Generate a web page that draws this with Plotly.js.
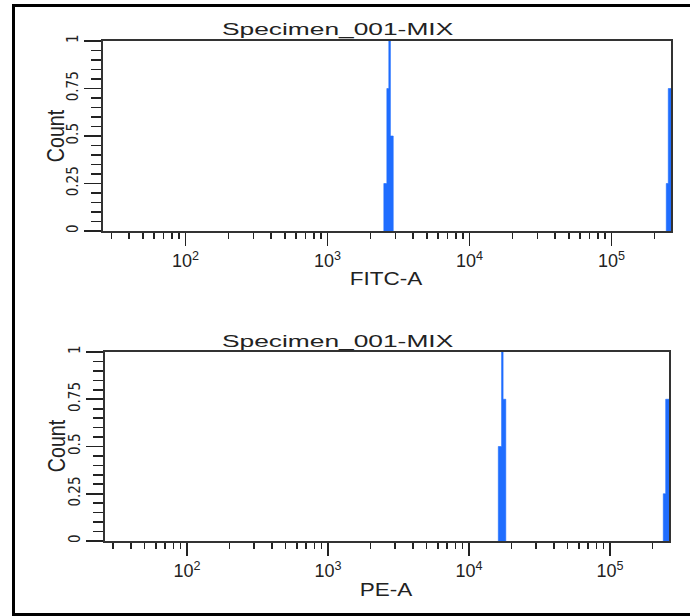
<!DOCTYPE html>
<html>
<head>
<meta charset="utf-8">
<script src="https://cdn.plot.ly/plotly-3.0.1.min.js"></script>
<style>
  html, body { margin: 0; padding: 0; background: #fff; overflow: hidden; width: 690px; height: 616px; }
  #chart { position: absolute; left: 0; top: 0; width: 690px; height: 616px; }
  #frame { position: absolute; left: 12px; top: 4px; width: 720px; height: 606px;
           border-left: 3px solid #000; border-top: 3px solid #000; border-bottom: 3px solid #000;
           pointer-events: none; }
  .annotation[data-index="0"] text.annotation-text,
  .annotation[data-index="1"] text.annotation-text {
    transform-box: fill-box; transform-origin: center; transform: scaleX(1.55);
  }
  .annotation[data-index="2"] text.annotation-text,
  .annotation[data-index="3"] text.annotation-text {
    transform-box: fill-box; transform-origin: center; transform: scaleX(1.25);
  }
  .annotation[data-index="4"] text.annotation-text,
  .annotation[data-index="5"] text.annotation-text {
    transform-box: fill-box; transform-origin: center; transform: scaleX(0.82);
  }
</style>
</head>
<body>
<div id="chart"></div>
<div id="frame"></div>
<script>
// ---- data ----
const panelTitles = ["Specimen_001-MIX", "Specimen_001-MIX"];
const xTitles = ["FITC-A", "PE-A"];
const yTitle = "Count";

// FITC-A histogram: bin edges and normalised counts
const fitcEdges = [2490, 2615, 2700, 2770, 2900];
const fitcCounts = [0.25, 0.75, 1, 0.5];
const fitcEdgesHigh = [242800, 250800, 262144];
const fitcCountsHigh = [0.25, 0.75];

// PE-A histogram
const peEdges = [16140, 17030, 17450, 18240];
const peCounts = [0.5, 1, 0.75];
const peEdgesHigh = [238800, 248400, 262144];
const peCountsHigh = [0.25, 0.75];

// axis ticks
const xMajorVals = [100, 1000, 10000, 100000];
const xMajorText = ["10<sup>2</sup>", "10<sup>3</sup>", "10<sup>4</sup>", "10<sup>5</sup>"];
const xMinorVals = [30, 40, 50, 60, 70, 80, 90,
                    200, 300, 400, 500, 600, 700, 800, 900,
                    2000, 3000, 4000, 5000, 6000, 7000, 8000, 9000,
                    20000, 30000, 40000, 50000, 60000, 70000, 80000, 90000,
                    200000];
const yMajorVals = [0, 0.25, 0.5, 0.75, 1];
const yMajorText = ["0", "0.25", "0.5", "0.75", "1"];
const xMin = 262144 / 10000;
const xMax = 262144;

// ---- helpers ----
function stepXY(edges, counts) {
  const xs = [edges[0]], ys = [0];
  for (let i = 0; i < counts.length; i++) {
    xs.push(edges[i], edges[i + 1]);
    ys.push(counts[i], counts[i]);
  }
  xs.push(edges[edges.length - 1]);
  ys.push(0);
  return {x: xs, y: ys};
}
const barColor = "#1f6dff";
function histTrace(edges, counts, xa, ya) {
  const s = stepXY(edges, counts);
  return {x: s.x, y: s.y, xaxis: xa, yaxis: ya, type: "scatter", mode: "lines",
          fill: "toself", fillcolor: barColor, line: {color: barColor, width: 0.6},
          hoverinfo: "skip"};
}

const traces = [
  histTrace(fitcEdges, fitcCounts, "x", "y"),
  histTrace(fitcEdgesHigh, fitcCountsHigh, "x", "y"),
  histTrace(peEdges, peCounts, "x2", "y2"),
  histTrace(peEdgesHigh, peCountsHigh, "x2", "y2")
];

const W = 690, H = 616;
const px = v => v / W;
const py = v => 1 - v / H;

const tickFont = {family: "Liberation Sans, Arial, sans-serif", size: 18, color: "#222"};
const yTickFont = {family: "Liberation Sans Narrow, DejaVu Sans Condensed, Liberation Sans, sans-serif", size: 15, color: "#222"};

function xAxis(domain, anchor) {
  return {
    domain: domain, anchor: anchor, type: "log",
    range: [Math.log10(xMin), Math.log10(xMax)],
    tickmode: "array", tickvals: xMajorVals, ticktext: xMajorText,
    ticks: "outside", ticklen: 13, tickwidth: 1.6, tickcolor: "#222",
    minor: {tickmode: "array", tickvals: xMinorVals, ticks: "outside",
            ticklen: 6, tickwidth: 1.6, tickcolor: "#222", showgrid: false},
    showline: true, linecolor: "#333", linewidth: 1.6, mirror: true,
    showgrid: false, zeroline: false, tickfont: tickFont, fixedrange: true
  };
}
function yAxis(domain, anchor) {
  return {
    domain: domain, anchor: anchor, range: [0, 1],
    tickmode: "array", tickvals: yMajorVals, ticktext: yMajorText, tickangle: -90,
    ticks: "outside", ticklen: 17, tickwidth: 1.6, tickcolor: "#222",
    minor: {tickmode: "linear", tick0: 0, dtick: 0.05, ticks: "outside",
            ticklen: 10, tickwidth: 1.6, tickcolor: "#222", showgrid: false},
    showline: true, linecolor: "#333", linewidth: 1.6, mirror: true,
    showgrid: false, zeroline: false, tickfont: yTickFont, fixedrange: true
  };
}

const titleFont = {family: "Liberation Sans, Arial, sans-serif", size: 17, color: "#222"};
const axTitleFont = {family: "Liberation Sans, Arial, sans-serif", size: 18, color: "#222"};
const countFont = {family: "Liberation Sans, Arial, sans-serif", size: 24, color: "#222"};

function ann(text, x, y, font, angle) {
  return {text: text, xref: "paper", yref: "paper", x: px(x), y: py(y),
          xanchor: "center", yanchor: "middle", showarrow: false,
          font: font, textangle: angle || 0};
}

const layout = {
  width: W, height: H,
  margin: {l: 0, r: 0, t: 0, b: 0},
  paper_bgcolor: "#fff", plot_bgcolor: "#fff",
  showlegend: false,
  xaxis: xAxis([px(103), px(671)], "y"),
  yaxis: yAxis([py(231), py(41)], "x"),
  xaxis2: xAxis([px(105), px(669)], "y2"),
  yaxis2: yAxis([py(541), py(352)], "x2"),
  annotations: [
    ann(panelTitles[0], 337, 30, titleFont),
    ann(panelTitles[1], 337, 341, titleFont),
    ann(xTitles[0], 386, 279, axTitleFont),
    ann(xTitles[1], 386, 590, axTitleFont),
    ann(yTitle, 56, 136, countFont, -90),
    ann(yTitle, 56, 446, countFont, -90)
  ]
};

Plotly.newPlot("chart", traces, layout, {displayModeBar: false, staticPlot: true});
</script>
</body>
</html>
